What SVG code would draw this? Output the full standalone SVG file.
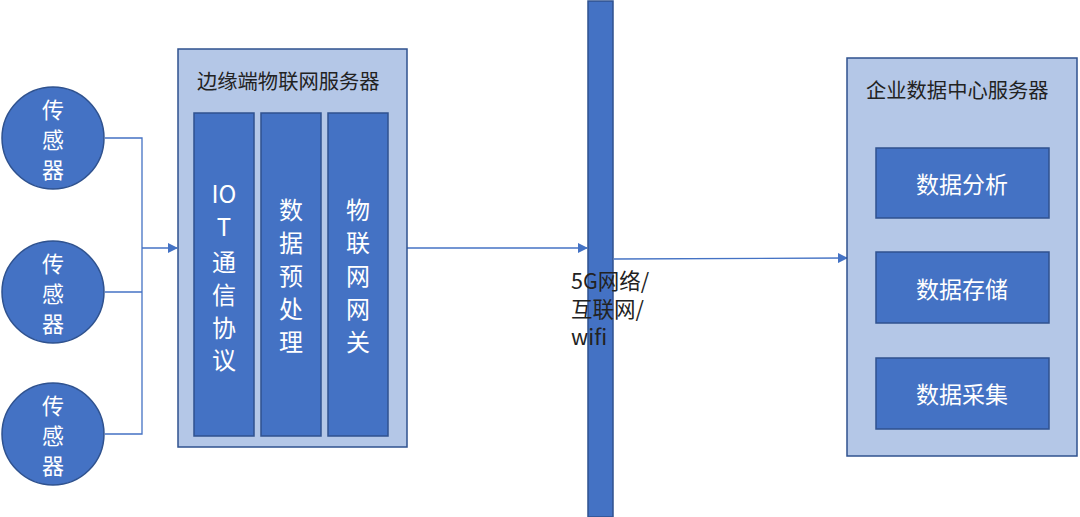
<svg xmlns="http://www.w3.org/2000/svg" width="1080" height="517" viewBox="0 0 1080 517">
<style>
.dk{fill:#4472C4;stroke:#2F528F;stroke-width:1.5}
.lt{fill:#B4C7E7;stroke:#2F528F;stroke-width:1.5}
.wt{fill:#FFFFFF;font-family:"Noto Sans CJK SC","Noto Sans",sans-serif;text-anchor:middle;dominant-baseline:central}
.bk{fill:#222222;font-family:"Noto Sans CJK SC","Noto Sans",sans-serif}
.ln{fill:none;stroke:#4472C4;stroke-width:1.3}
</style>
<defs>
<marker id="ah" markerWidth="10" markerHeight="10" refX="9" refY="5" orient="auto" markerUnits="userSpaceOnUse">
<path d="M0,0 L10,5 L0,10 z" fill="#4472C4"/>
</marker>
</defs>
<rect width="1080" height="517" fill="#FFFFFF"/>
<g id="connectors">
<polyline class="ln" points="105,138 142,138 142,434 105,434"/>
<line class="ln" x1="105" y1="292" x2="142" y2="292"/>
<line class="ln" x1="142" y1="248" x2="177" y2="248" marker-end="url(#ah)"/>
<line class="ln" x1="407" y1="248" x2="587" y2="248" marker-end="url(#ah)"/>
<line class="ln" x1="614" y1="259" x2="847" y2="258" marker-end="url(#ah)"/>
</g>
<g id="sensor1">
<circle class="dk" cx="53" cy="138" r="51"/>
<text class="wt" font-size="22"><tspan x="53" y="108">传</tspan><tspan x="53" y="138">感</tspan><tspan x="53" y="168">器</tspan></text>
</g>
<g id="sensor2">
<circle class="dk" cx="53" cy="292" r="51"/>
<text class="wt" font-size="22"><tspan x="53" y="262">传</tspan><tspan x="53" y="292">感</tspan><tspan x="53" y="322">器</tspan></text>
</g>
<g id="sensor3">
<circle class="dk" cx="53" cy="434" r="51"/>
<text class="wt" font-size="22"><tspan x="53" y="404">传</tspan><tspan x="53" y="434">感</tspan><tspan x="53" y="464">器</tspan></text>
</g>
<g id="edge-server">
<rect class="lt" x="178" y="49" width="229" height="398"/>
<text class="bk" x="197" y="89" font-size="20.3">边缘端物联网服务器</text>
</g>
<g id="iot-protocol">
<rect class="dk" x="194" y="113" width="60" height="323"/>
<text class="wt" font-size="24"><tspan x="224" y="192">IO</tspan><tspan x="224" y="225">T</tspan><tspan x="224" y="260">通</tspan><tspan x="224" y="293">信</tspan><tspan x="224" y="326">协</tspan><tspan x="224" y="358">议</tspan></text>
</g>
<g id="preprocess">
<rect class="dk" x="261" y="113" width="60" height="323"/>
<text class="wt" font-size="24"><tspan x="291" y="208">数</tspan><tspan x="291" y="241">据</tspan><tspan x="291" y="274">预</tspan><tspan x="291" y="307">处</tspan><tspan x="291" y="340">理</tspan></text>
</g>
<g id="gateway">
<rect class="dk" x="328" y="113" width="60" height="323"/>
<text class="wt" font-size="24"><tspan x="358" y="208">物</tspan><tspan x="358" y="241">联</tspan><tspan x="358" y="274">网</tspan><tspan x="358" y="307">网</tspan><tspan x="358" y="340">关</tspan></text>
</g>
<g id="network">
<rect class="dk" x="588" y="1" width="25" height="516"/>
<text class="bk" font-size="21.5"><tspan x="571" y="289">5G网络/</tspan><tspan x="571" y="317">互联网/</tspan><tspan x="571" y="345">wifi</tspan></text>
</g>
<g id="datacenter">
<rect class="lt" x="847" y="58" width="230" height="398"/>
<text class="bk" x="866" y="98" font-size="20.3">企业数据中心服务器</text>
</g>
<g id="analysis">
<rect class="dk" x="876" y="148" width="173" height="70"/>
<text class="wt" x="962" y="183" font-size="23">数据分析</text>
</g>
<g id="storage">
<rect class="dk" x="876" y="252" width="173" height="71"/>
<text class="wt" x="962" y="288" font-size="23">数据存储</text>
</g>
<g id="collection">
<rect class="dk" x="876" y="358" width="173" height="71"/>
<text class="wt" x="962" y="393" font-size="23">数据采集</text>
</g>
</svg>
